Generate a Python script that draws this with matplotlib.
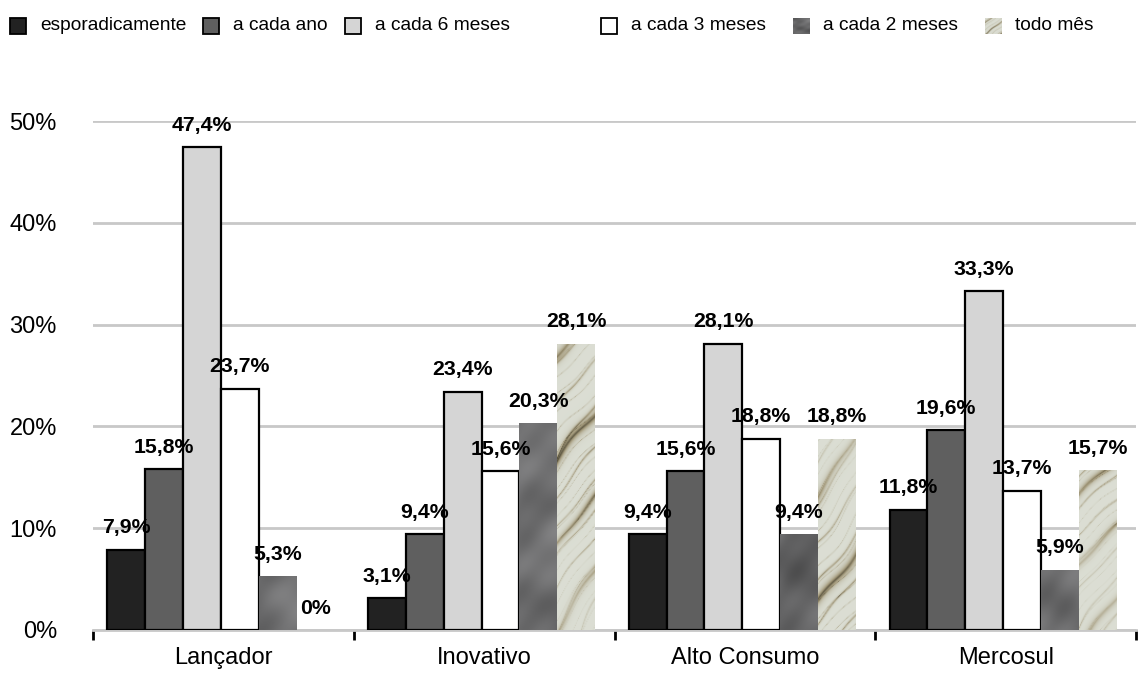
import numpy as np
import matplotlib
matplotlib.use("Agg")
import matplotlib.pyplot as plt
from matplotlib.patches import Rectangle

plt.rcParams['font.family'] = ['Liberation Sans', 'DejaVu Sans']

categories = ["Lançador", "Inovativo", "Alto Consumo", "Mercosul"]
series_names = ["esporadicamente", "a cada ano", "a cada 6 meses",
                "a cada 3 meses", "a cada 2 meses", "todo mês"]
esporadicamente = [7.9, 3.1, 9.4, 11.8]
a_cada_ano = [15.8, 9.4, 15.6, 19.6]
a_cada_6_meses = [47.4, 23.4, 28.1, 33.3]
a_cada_3_meses = [23.7, 15.6, 18.8, 13.7]
a_cada_2_meses = [5.3, 20.3, 9.4, 5.9]
todo_mes = [0.0, 28.1, 18.8, 15.7]
series_values = [esporadicamente, a_cada_ano, a_cada_6_meses,
                 a_cada_3_meses, a_cada_2_meses, todo_mes]
yticks = [0, 10, 20, 30, 40, 50]

solid_colors = ["#222222", "#5f5f5f", "#d5d5d5", "#ffffff", None, None]

W, H = 1142, 681
fig = plt.figure(figsize=(W / 100, H / 100), dpi=100)
ax = fig.add_axes([93 / W, 1 - 630 / H, (1136 - 93) / W, (630 - 121) / H])

XMIN, XMAX, YMIN, YMAX = -0.5, 3.5, 0, 50
ax.set_xlim(XMIN, XMAX)
ax.set_ylim(YMIN, YMAX)

# deterministic textures covering the whole axes
ny, nx = 500, 1000
gx = np.linspace(0, 1, nx)
gy = np.linspace(1, 0, ny)
X, Y = np.meshgrid(gx * 16, gy * 8)

# smoky gray
s = (np.sin(X * 2.3 + np.sin(Y * 1.7) * 1.5) * np.cos(Y * 2.1 + np.sin(X * 1.3))
     + 0.5 * np.sin(X * 5.1 + Y * 3.7) * np.sin(Y * 4.3 - X * 1.1)
     + 0.25 * np.sin(X * 11.0 - Y * 9.0 + np.sin(X * 3.0)))
s = (s - s.min()) / (s.max() - s.min())
g = 0.30 + 0.22 * s
smoke = np.clip(np.dstack([g, g, g * 1.01]), 0, 1)

# marble with diagonal streaks (lower-left to upper-right)
turb = (0.25 * np.sin(0.9 * X + 0.5 * Y) + 0.15 * np.sin(1.3 * Y - 0.8 * X + 1.0)
        + 0.03 * np.sin(5.0 * X + 3.0 * Y))
t = X - 0.75 * Y + turb
mask = 0.35 + 0.65 * np.sin(0.35 * X + 0.55 * Y + 0.5) ** 2
v1 = np.exp(-np.abs(np.sin(3.0 * t)) * 7.0)
v2 = np.exp(-np.abs(np.sin(7.3 * t + 0.4 * np.sin(2.0 * Y))) * 12.0) * 0.6
v3 = np.exp(-np.abs(np.sin(17.0 * t + 0.6 * np.sin(3.0 * X))) * 14.0) * 0.35
d = np.clip((v1 * 0.9 + v2 + v3) * mask, 0, 1)
base = np.array([0.86, 0.87, 0.83])
mid = np.array([0.64, 0.60, 0.48])
dark = np.array([0.28, 0.26, 0.19])
dd = d[..., None]
marble = np.where(dd < 0.5,
                  base * (1 - 2 * dd) + mid * (2 * dd),
                  mid * (2 - 2 * dd) + dark * (2 * dd - 1))
marble = np.clip(marble, 0, 1)
textures = [None, None, None, None, smoke, marble]

n = len(series_names)
width = 0.145
xc = np.arange(len(categories)) - 0.01
for i, (name, vals) in enumerate(zip(series_names, series_values)):
    xs = xc + (i - (n - 1) / 2) * width
    if textures[i] is None:
        bars = ax.bar(xs, vals, width, color=solid_colors[i], edgecolor="black",
                      linewidth=1.6, zorder=3)
    else:
        bars = ax.bar(xs, vals, width, color="none", edgecolor="none",
                      linewidth=0, zorder=3)
        for b in bars:
            if b.get_height() <= 0:
                continue
            im = ax.imshow(textures[i], extent=(XMIN, XMAX, YMIN, YMAX),
                           aspect="auto", zorder=3, interpolation="bilinear")
            im.set_clip_path(b)
    for x, v in zip(xs, vals):
        lab = "0%" if v == 0 else f"{v:.1f}".replace(".", ",") + "%"
        ax.annotate(lab, (x, v), xytext=(0, 22), textcoords="offset pixels",
                    ha="center", va="center", fontsize=15.3, fontweight="bold",
                    color="black", zorder=5, annotation_clip=False)

ax.set_xlim(XMIN, XMAX)
ax.set_ylim(YMIN, YMAX)

# grid
ax.set_yticks(yticks)
ax.set_yticklabels([f"{v}%" for v in yticks], fontsize=17)
ax.yaxis.grid(True, color="#c8c8c8", linewidth=2.0, zorder=0)
ax.set_axisbelow(True)
ax.tick_params(axis="y", length=0, pad=26)

ax.set_xticks(np.arange(len(categories)))
ax.set_xticklabels(categories, fontsize=17)
ax.set_xticks(np.arange(len(categories) + 1) - 0.5, minor=True)
ax.tick_params(axis="x", which="major", length=0, pad=12)
ax.tick_params(axis="x", which="minor", length=7, width=2, color="black",
               direction="out")
for sp in ["top", "right", "left"]:
    ax.spines[sp].set_visible(False)
ax.spines["bottom"].set_color("#c8c8c8")
ax.spines["bottom"].set_linewidth(2.0)

# legend (manual)
leg_x = [10, 203, 345, 601, 793, 985]
ly = 26
sq = 16
for i, name in enumerate(series_names):
    x0 = leg_x[i]
    if textures[i] is None:
        r = Rectangle((x0 / W, 1 - (ly + sq / 2) / H), sq / W, sq / H,
                      transform=fig.transFigure, facecolor=solid_colors[i],
                      edgecolor="black", linewidth=1.3)
        fig.add_artist(r)
    else:
        lax = fig.add_axes([x0 / W, 1 - (ly + sq / 2) / H, sq / W, sq / H])
        lax.imshow(textures[i][150:260, 300:360], aspect="auto",
                   interpolation="bilinear")
        lax.axis("off")
    fig.text((x0 + 30) / W, 1 - ly / H, name, fontsize=13.8,
             ha="left", va="center")

fig.savefig("out.png", dpi=100)
